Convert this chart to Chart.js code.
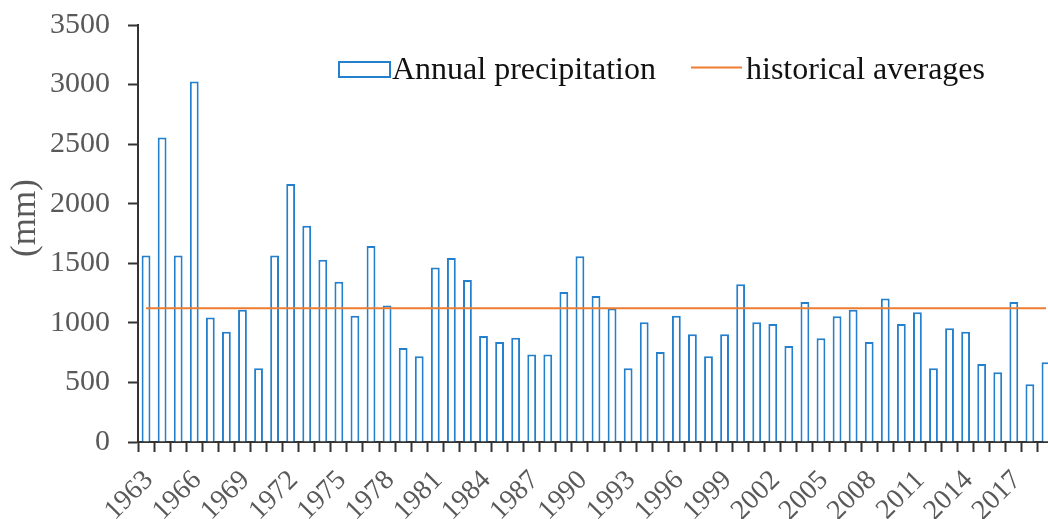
<!DOCTYPE html>
<html>
<head>
<meta charset="utf-8">
<script src="https://cdn.jsdelivr.net/npm/chart.js@4.4.1/dist/chart.umd.min.js"></script>
<style>
	html, body {
		margin: 0;
		padding: 0;
		background: #ffffff;
		overflow: hidden;
	}
	#wrap {
		width: 1048px;
		height: 519px;
		overflow: hidden;
	}
</style>
</head>
<body>
<div id="wrap">
	<canvas id="chart" width="1060" height="519"></canvas>
</div>
<script>
// category labels (one bar per year)
const years = [
	'1963', '1964', '1965', '1966', '1967', '1968', '1969', '1970', '1971', '1972',
	'1973', '1974', '1975', '1976', '1977', '1978', '1979', '1980', '1981', '1982',
	'1983', '1984', '1985', '1986', '1987', '1988', '1989', '1990', '1991', '1992',
	'1993', '1994', '1995', '1996', '1997', '1998', '1999', '2000', '2001', '2002',
	'2003', '2004', '2005', '2006', '2007', '2008', '2009', '2010', '2011', '2012',
	'2013', '2014', '2015', '2016', '2017', '2018', '2019',
]

// annual precipitation in mm
const annualPrecipitation = [
	1565, 2555, 1565, 3025, 1045, 925, 1110, 620, 1565, 2165,
	1815, 1530, 1345, 1060, 1645, 1145, 790, 720, 1465, 1545,
	1360, 890, 840, 875, 735, 735, 1260, 1560, 1225, 1120,
	620, 1005, 755, 1060, 905, 720, 905, 1325, 1005, 990,
	805, 1175, 870, 1055, 1110, 840, 1205, 990, 1090, 620,
	955, 925, 655, 585, 1175, 485, 670,
]

// the flat orange line
const historicalAverage = 1122

const yTicks = [0, 500, 1000, 1500, 2000, 2500, 3000, 3500]

const BLUE = '#2480cc'
const ORANGE = '#ed7d31'
const GREY = '#595959'
const SERIF = "'Liberation Serif', 'Times New Roman', serif"

// legend and axis title drawn over the plot, like the original
const overlayText = {
	id: 'overlayText',
	afterDraw(chart) {
		const ctx = chart.ctx
		const sets = chart.data.datasets
		ctx.save()

		// legend
		ctx.font = `32px ${SERIF}`
		ctx.fillStyle = '#111111'
		ctx.textBaseline = 'alphabetic'
		ctx.textAlign = 'left'

		ctx.strokeStyle = BLUE
		ctx.lineWidth = 2
		ctx.strokeRect(339, 62, 51, 15)
		ctx.fillText(sets[1].label, 392, 79)

		ctx.strokeStyle = ORANGE
		ctx.beginPath()
		ctx.moveTo(691, 67.5)
		ctx.lineTo(742, 67.5)
		ctx.stroke()
		ctx.fillText(sets[0].label, 746, 79)

		// y axis title
		ctx.translate(26, 218)
		ctx.rotate(-Math.PI / 2)
		ctx.font = `35px ${SERIF}`
		ctx.fillStyle = GREY
		ctx.textAlign = 'center'
		ctx.textBaseline = 'middle'
		ctx.fillText('(mm)', 0, 0)
		ctx.restore()
	},
}

const ctx = document.getElementById('chart')
new Chart(ctx, {
	data: {
		labels: years,
		datasets: [
			{
				type: 'line',
				label: 'historical averages',
				data: years.map(() => historicalAverage),
				borderColor: ORANGE,
				borderWidth: 2,
				pointRadius: 0,
				fill: false,
				order: 1,
			},
			{
				type: 'bar',
				label: 'Annual precipitation',
				data: annualPrecipitation,
				backgroundColor: '#ffffff',
				borderColor: BLUE,
				borderWidth: 2,
				barPercentage: 0.55,
				categoryPercentage: 1,
				order: 2,
			},
		],
	},
	options: {
		responsive: false,
		animation: false,
		layout: {
			padding: { top: 25, right: 6, left: 0, bottom: 0 },
		},
		plugins: {
			legend: { display: false },
			tooltip: { enabled: false },
		},
		scales: {
			x: {
				type: 'category',
				offset: true,
				grid: {
					display: true,
					offset: true,
					drawOnChartArea: false,
					drawTicks: true,
					tickLength: 10,
					tickWidth: 2,
					tickColor: '#333333',
				},
				border: { display: true, color: '#333333', width: 2 },
				ticks: {
					autoSkip: false,
					maxRotation: 45,
					minRotation: 45,
					padding: 12,
					labelOffset: 3,
					color: GREY,
					font: { family: SERIF, size: 28 },
					callback(value, index) {
						return index % 3 === 0 ? years[index] : ''
					},
				},
				afterFit(scale) {
					scale.height = 77
					scale.paddingLeft = 0
					scale.paddingRight = 0
				},
			},
			y: {
				min: 0,
				max: 3500,
				afterBuildTicks(scale) {
					scale.ticks = yTicks.map(v => ({ value: v }))
				},
				grid: {
					display: true,
					drawOnChartArea: false,
					drawTicks: true,
					tickLength: 10,
					tickWidth: 2,
					tickColor: '#333333',
				},
				border: { display: true, color: '#333333', width: 2 },
				ticks: {
					padding: 18,
					color: GREY,
					font: { family: SERIF, size: 30 },
					callback(value) {
						return String(value)
					},
				},
				afterFit(scale) {
					scale.width = 138
					scale.paddingTop = 0
					scale.paddingBottom = 0
				},
			},
		},
	},
	plugins: [overlayText],
})
</script>
</body>
</html>
